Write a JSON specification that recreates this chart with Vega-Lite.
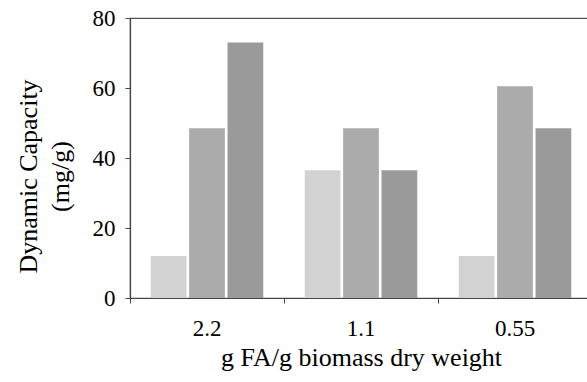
{
  "$schema": "https://vega.github.io/schema/vega-lite/v6.json",
  "autosize": {"type": "none"},
  "padding": {"left": 130, "top": 18, "right": 0, "bottom": 84},
  "width": 462,
  "height": 280,
  "background": "white",
  "config": {
    "view": {"stroke": "#555555", "strokeWidth": 1.2},
    "font": "Liberation Serif"
  },
  "data": {
    "values": [
      {"dose": "2.2", "series": "A", "capacity": 12},
      {"dose": "2.2", "series": "B", "capacity": 48.5},
      {"dose": "2.2", "series": "C", "capacity": 73},
      {"dose": "1.1", "series": "A", "capacity": 36.5},
      {"dose": "1.1", "series": "B", "capacity": 48.5},
      {"dose": "1.1", "series": "C", "capacity": 36.5},
      {"dose": "0.55", "series": "A", "capacity": 12},
      {"dose": "0.55", "series": "B", "capacity": 60.5},
      {"dose": "0.55", "series": "C", "capacity": 48.5}
    ]
  },
  "mark": {"type": "bar"},
  "encoding": {
    "x": {
      "field": "dose",
      "type": "nominal",
      "sort": ["2.2", "1.1", "0.55"],
      "scale": {"paddingInner": 0, "paddingOuter": 0},
      "axis": {
        "title": "g FA/g biomass dry weight",
        "labelAngle": 0,
        "bandPosition": 0,
        "domainColor": "#444444",
        "domainWidth": 1.2,
        "tickColor": "#444444",
        "tickSize": 5,
        "labelFont": "Liberation Serif",
        "labelFontSize": 23,
        "labelColor": "#000000",
        "labelBaseline": "alphabetic",
        "labelPadding": 32,
        "grid": false,
        "titleFont": "Liberation Serif",
        "titleFontSize": 26,
        "titleFontWeight": "normal",
        "titleColor": "#000000",
        "titleBaseline": "alphabetic",
        "titleY": 67
      }
    },
    "xOffset": {
      "field": "series",
      "type": "nominal",
      "scale": {"paddingInner": 0.07, "paddingOuter": 0.54}
    },
    "y": {
      "field": "capacity",
      "type": "quantitative",
      "scale": {"domain": [0, 80]},
      "axis": {
        "title": ["Dynamic Capacity", "(mg/g)"],
        "values": [0, 20, 40, 60, 80],
        "grid": false,
        "domainColor": "#444444",
        "domainWidth": 1.2,
        "tickColor": "#444444",
        "tickSize": 5,
        "labelFont": "Liberation Serif",
        "labelFontSize": 23,
        "labelColor": "#000000",
        "labelPadding": 10,
        "titleFont": "Liberation Serif",
        "titleFontSize": 26,
        "titleFontWeight": "normal",
        "titleColor": "#000000",
        "titleAngle": -90,
        "titleAlign": "center",
        "titleBaseline": "middle",
        "titleLineHeight": 32,
        "titleX": -102,
        "titleY": 158
      }
    },
    "color": {
      "field": "series",
      "type": "nominal",
      "scale": {"domain": ["A", "B", "C"], "range": ["#d2d2d2", "#ababab", "#9a9a9a"]},
      "legend": null
    }
  }
}
